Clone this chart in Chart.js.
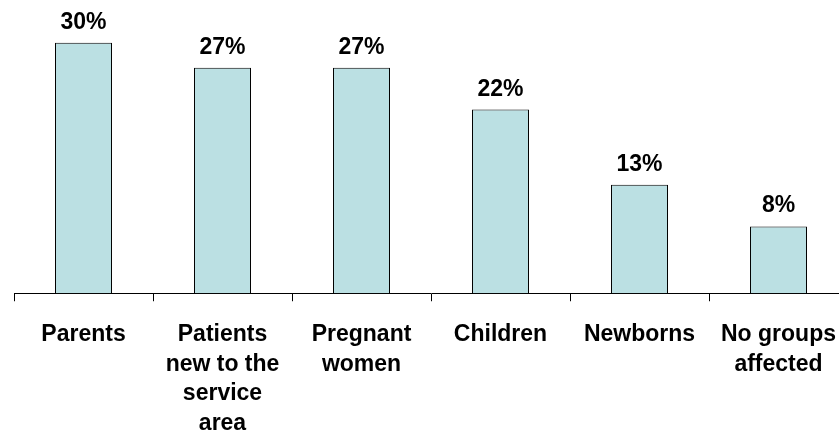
<!DOCTYPE html>
<html>
<head>
<meta charset="utf-8">
<script src="https://cdn.jsdelivr.net/npm/chart.js@4/dist/chart.umd.min.js"></script>
<style>
  html, body { margin: 0; padding: 0; background: #fff; overflow: hidden; }
  #wrap { width: 855px; height: 457px; }
</style>
</head>
<body>
<div id="wrap"><canvas id="groupsChart" width="855" height="457"></canvas></div>
<script>
// Groups affected (percent of respondents)
const categories = [
  "Parents",
  ["Patients", "new to the", "service", "area"],
  ["Pregnant", "women"],
  "Children",
  "Newborns",
  ["No groups", "affected"]
];
const percentValues = [30, 27, 27, 22, 13, 8];

const FONT = "'Liberation Sans', Arial, sans-serif";

// Write the value above each bar
const valueLabels = {
  id: "valueLabels",
  afterDatasetsDraw(chart) {
    const ctx = chart.ctx;
    const meta = chart.getDatasetMeta(0);
    ctx.save();
    ctx.font = "bold 23px " + FONT;
    ctx.fillStyle = "#000";
    ctx.textAlign = "center";
    ctx.textBaseline = "alphabetic";
    meta.data.forEach((bar, i) => {
      ctx.fillText(percentValues[i] + "%", bar.x, bar.y - 14);
    });
    ctx.restore();
  }
};

const ctx = document.getElementById("groupsChart").getContext("2d");
new Chart(ctx, {
  type: "bar",
  data: {
    labels: categories,
    datasets: [
      {
        data: percentValues,
        backgroundColor: "#BBE0E3",
        borderColor: "#000",
        borderWidth: 1,
        borderSkipped: "bottom",
        categoryPercentage: 1,
        barPercentage: 0.41
      }
    ]
  },
  options: {
    responsive: false,
    animation: false,
    layout: { padding: { left: 14, top: 1, right: 0, bottom: 0 } },
    plugins: {
      legend: { display: false },
      tooltip: { enabled: false }
    },
    scales: {
      x: {
        offset: true,
        grid: {
          drawOnChartArea: false,
          drawTicks: true,
          tickLength: 8,
          color: "#000",
          offset: true
        },
        border: { display: true, color: "#000", width: 1 },
        ticks: {
          color: "#000",
          padding: 19,
          maxRotation: 0,
          autoSkip: false,
          font: { family: FONT, size: 23, weight: "bold", lineHeight: 1.28 }
        }
      },
      y: {
        display: false,
        min: 0,
        max: 35
      }
    }
  },
  plugins: [valueLabels]
});
</script>
</body>
</html>
